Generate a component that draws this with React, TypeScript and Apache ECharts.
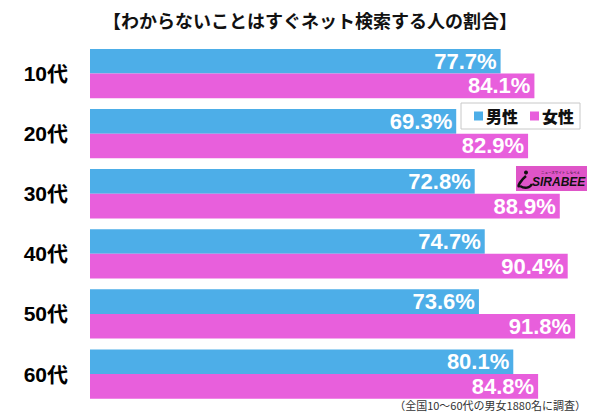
import React, { useEffect, useRef } from "react";
import * as echarts from "echarts";

const categories = ["10代", "20代", "30代", "40代", "50代", "60代"];
const maleValues = [77.7, 69.3, 72.8, 74.7, 73.6, 80.1];
const femaleValues = [84.1, 82.9, 88.9, 90.4, 91.8, 84.8];
const seriesNames = ["男性", "女性"];
const titleText = "【わからないことはすぐネット検索する人の割合】";
const footnoteText = "（全国10〜60代の男女1880名に調査）";

const BLUE = "#4DAEE8";
const PINK = "#E85FDC";
const NUM_FONT = "Arial, 'Liberation Sans', 'Noto Sans CJK JP', sans-serif";
const JP_FONT = "'Noto Sans CJK JP', 'Noto Sans', sans-serif";

export default function App() {
  const ref = useRef<HTMLDivElement>(null);
  useEffect(() => {
    if (!ref.current) return;
    const chart = echarts.init(ref.current, null, { renderer: "svg" });
    const labelCfg = {
      show: true,
      position: "insideRight",
      distance: 4,
      color: "#fff",
      fontSize: 22,
      fontWeight: "bold",
      fontFamily: NUM_FONT,
      formatter: (p: any) => p.value.toFixed(1) + "%",
    };
    chart.setOption({
      animation: false,
      backgroundColor: "#fff",
      title: {
        text: titleText,
        left: 305,
        textAlign: "center",
        top: 6,
        textStyle: { fontSize: 18, fontWeight: "bold", color: "#111", fontFamily: JP_FONT },
      },
      legend: {
        data: seriesNames,
        left: 461,
        top: 103,
        orient: "horizontal",
        icon: "rect",
        itemWidth: 9,
        itemHeight: 9,
        itemGap: 12,
        padding: [5, 6, 5, 13],
        borderColor: "#c8c8c8",
        borderWidth: 1,
        backgroundColor: "#fff",
        textStyle: { fontSize: 16, fontWeight: 900, color: "#111", fontFamily: JP_FONT, padding: [0, 0, 0, -2] },
      },
      grid: { left: 90, right: 2.7, top: 43.5, bottom: 14.9, containLabel: false },
      xAxis: {
        type: "value",
        min: 0,
        max: 96,
        show: false,
      },
      yAxis: {
        type: "category",
        data: categories,
        inverse: true,
        axisLine: { show: false },
        axisTick: { show: false },
        splitLine: { show: false },
        axisLabel: {
          margin: 22,
          fontSize: 21,
          fontWeight: "bold",
          color: "#000",
          fontFamily: NUM_FONT,
        },
      },
      series: [
        {
          name: seriesNames[0],
          type: "bar",
          data: maleValues,
          itemStyle: { color: BLUE },
          barGap: "0%",
          barCategoryGap: "18%",
          label: labelCfg,
        },
        {
          name: seriesNames[1],
          type: "bar",
          data: femaleValues,
          itemStyle: { color: PINK },
          barGap: "0%",
          barCategoryGap: "18%",
          label: labelCfg,
        },
      ],
      graphic: [
        {
          type: "group",
          left: 516,
          top: 166,
          children: [
            { type: "rect", shape: { x: 0, y: 0, width: 71, height: 25 }, style: { fill: "#DF55C8" } },
            { type: "circle", shape: { cx: 10, cy: 6.5, r: 2 }, style: { fill: "#111" } },
            {
              type: "bezierCurve",
              shape: { x1: 10, y1: 10, x2: 4, y2: 20, cpx1: 5, cpy1: 14, cpx2: 0, cpy2: 22 },
              style: { stroke: "#111", lineWidth: 2.5, fill: "none" },
            },
            {
              type: "bezierCurve",
              shape: { x1: 4, y1: 20, x2: 16, y2: 18, cpx1: 9, cpy1: 23, cpx2: 14, cpy2: 22 },
              style: { stroke: "#111", lineWidth: 2.5, fill: "none" },
            },
            {
              type: "text",
              x: 16,
              y: 10,
              style: {
                text: "SIRABEE",
                fontSize: 12,
                fontWeight: "bold",
                fontStyle: "italic",
                fill: "#111",
                fontFamily: NUM_FONT,
              },
            },
            {
              type: "text",
              x: 25,
              y: 5,
              style: {
                text: "ニュースサイト しらべぇ",
                fontSize: 3.5,
                fill: "#111",
                fontFamily: JP_FONT,
              },
            },
          ],
        },
        {
          type: "text",
          right: 14,
          top: 399,
          style: {
            text: footnoteText,
            fontSize: 11,
            fill: "#333",
            fontFamily: JP_FONT,
          },
        },
      ],
    });
    return () => chart.dispose();
  }, []);
  return (
    <div
      ref={ref}
      style={{ position: "absolute", left: 0, top: 0, width: 600, height: 419 }}
    />
  );
}
